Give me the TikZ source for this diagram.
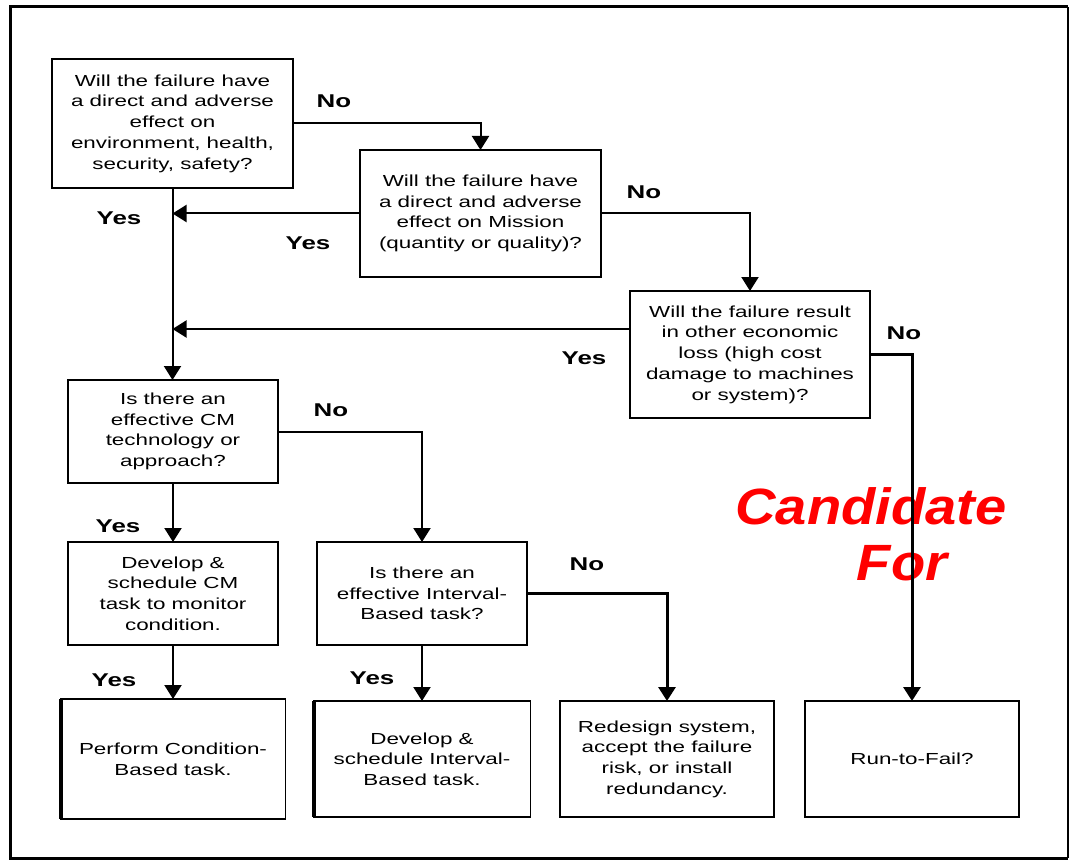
\documentclass[tikz,border=0pt]{standalone}
\usepackage{fontspec}
\setmainfont{Liberation Sans}[FakeStretch=1.4]
\newfontfamily\redfont{Liberation Sans}[FakeStretch=1.1]
\usetikzlibrary{arrows.meta}
\definecolor{candred}{RGB}{255,0,0}
\tikzset{
  box/.style={draw, line width=1.8pt, inner sep=0pt, outer sep=0pt, align=center,
    font=\fontsize{16}{20.7}\selectfont},
  lbl/.style={font=\bfseries\fontsize{18.5}{20}\selectfont, inner sep=0pt},
  arr/.style={line width=2pt, -{Triangle[length=14pt,width=17pt]}},
  heavy/.style={line width=3pt},
  cand/.style={font=\redfont\bfseries\itshape\fontsize{51}{55}\selectfont, text=candred, inner sep=0pt}
}
\begin{document}
\begin{tikzpicture}[x=1pt,y=-1pt]
\useasboundingbox (0,0) rectangle (1071,861);
\fill[white] (0,0) rectangle (1071,861);
% frame
\draw[line width=3pt] (1068,7) -- (10,7) -- (10,858) -- (1068,858);
\draw[line width=1.5pt] (1068,7) -- (1068,858);

% boxes
\node[box, minimum width=241, minimum height=129] (A) at (172.5,123.5)
  {Will the failure have\\a direct and adverse\\effect on\\environment, health,\\security, safety?};
\node[box, minimum width=241, minimum height=127] (B) at (480.5,213.5)
  {Will the failure have\\a direct and adverse\\effect on Mission\\(quantity or quality)?};
\node[box, minimum width=240, minimum height=127] (C) at (750,354.5)
  {Will the failure result\\in other economic\\loss (high cost\\damage to machines\\or system)?};
\node[box, minimum width=210, minimum height=103] (D) at (173,431.5)
  {Is there an\\effective CM\\technology or\\approach?};
\node[box, minimum width=210, minimum height=103] (E) at (173,593.5)
  {Develop \&\\schedule CM\\task to monitor\\condition.};
\node[box, minimum width=210, minimum height=103] (F) at (422,593.5)
  {Is there an\\effective Interval-\\Based task?};
\node[box, minimum width=225, minimum height=120] (G) at (173,759)
  {Perform Condition-\\Based task.};
\node[box, minimum width=217, minimum height=116] (I) at (422,759)
  {Develop \&\\schedule Interval-\\Based task.};
\node[box, minimum width=214, minimum height=116] (H) at (667,759)
  {Redesign system,\\accept the failure\\risk, or install\\redundancy.};
\node[box, minimum width=214, minimum height=116] (J) at (912,759)
  {Run-to-Fail?};
\draw[line width=4pt] (G.north west) -- (G.south west);
\draw[line width=4pt] (I.north west) -- (I.south west);

% red text
\node[cand] (cand1) at (871,506) {Candidate};
\node[cand] (cand2) at (902,563) {For};

% connectors
\draw[arr] (A.east) -| (B.north);
\draw[arr] (A.south) -- (A.south |- D.north);
\draw[arr] (B.west) -- (B.west -| A.south);
\draw[arr] (B.east) -| (C.north);
\draw[arr] ([yshift=25.5pt]C.west) -- ([yshift=25.5pt]C.west -| A.south);
\draw[arr, heavy] (C.east) -| (J.north);
\draw[arr] (D.east) -| (F.north);
\draw[arr] (D.south) -- (E.north);
\draw[arr, heavy] (F.east) -| (H.north);
\draw[arr] (E.south) -- (G.north);
\draw[arr] (F.south) -- (I.north);

% labels
\node[lbl] (l1) at (334,101) {No};
\node[lbl] (l2) at (119,218) {Yes};
\node[lbl] (l3) at (308,243) {Yes};
\node[lbl] (l4) at (644,192) {No};
\node[lbl] (l5) at (904,333) {No};
\node[lbl] (l6) at (584,358) {Yes};
\node[lbl] (l7) at (331,410) {No};
\node[lbl] (l8) at (118,526) {Yes};
\node[lbl] (l9) at (587,564) {No};
\node[lbl] (l10) at (114,680) {Yes};
\node[lbl] (l11) at (372,678) {Yes};
\end{tikzpicture}
\end{document}
